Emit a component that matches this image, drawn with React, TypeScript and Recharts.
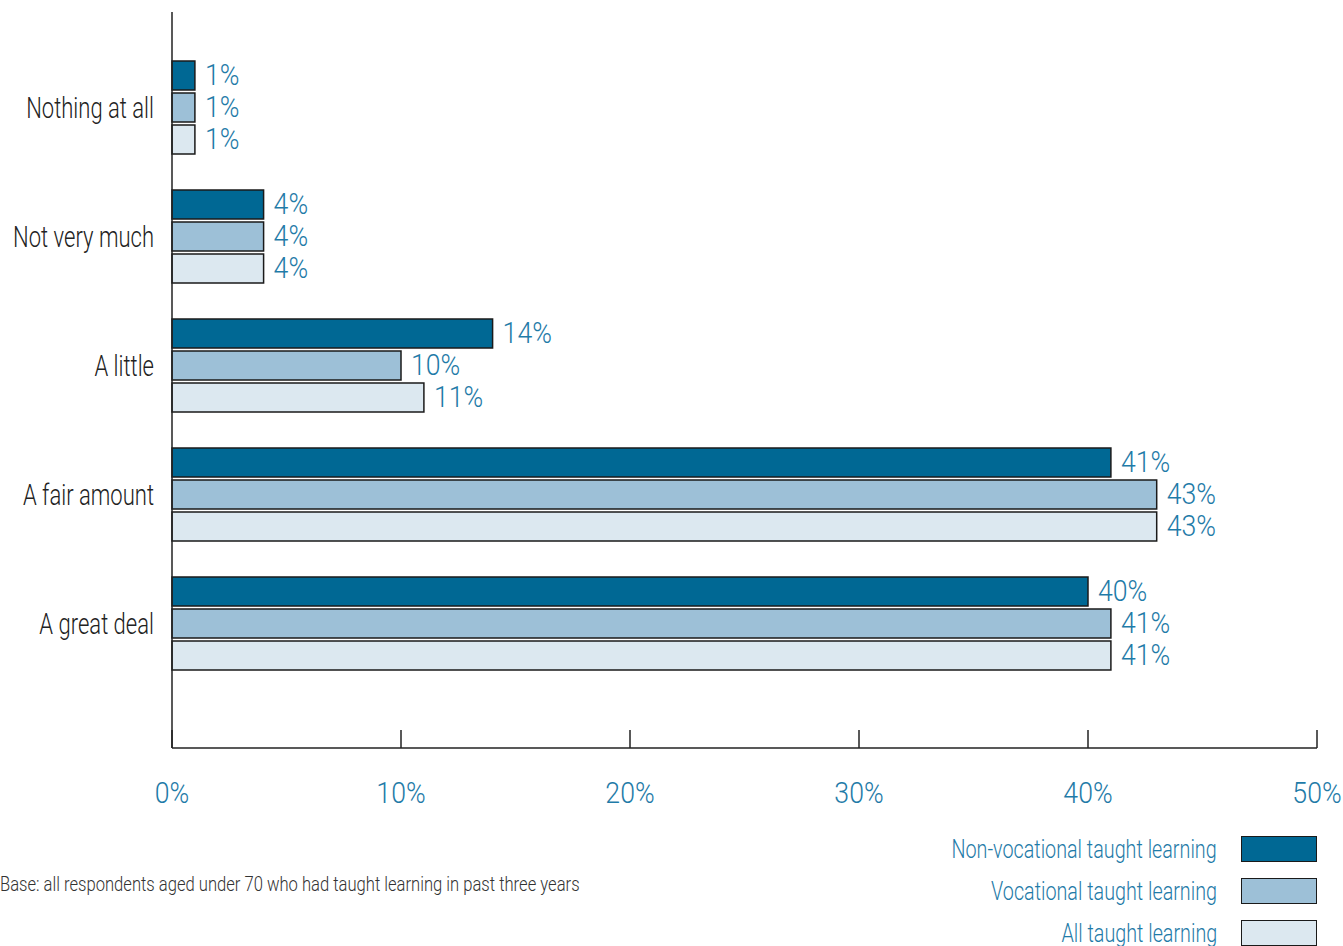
import React from "react";
import {
  BarChart,
  Bar,
  XAxis,
  YAxis,
  LabelList,
} from "recharts";

const categories = [
  "Nothing at all",
  "Not very much",
  "A little",
  "A fair amount",
  "A great deal",
];
const nonVocational = [1, 4, 14, 41, 40];
const vocational = [1, 4, 10, 43, 41];
const allTaught = [1, 4, 11, 43, 41];
const xTicks = [0, 10, 20, 30, 40, 50];

const SERIES = [
  { key: "nonVoc", name: "Non-vocational taught learning", color: "#006894" },
  { key: "voc", name: "Vocational taught learning", color: "#9dc0d7" },
  { key: "all", name: "All taught learning", color: "#dce8f0" },
];

const FONT = "Roboto, 'Noto Sans', sans-serif";
// squeeze text to mimic a condensed face
const SX_WORDS = 0.76;
const SX_NUMS = 0.92;
const BLUE = "#1f7ba8";
const INK = "#222";

const data = categories.map((name, i) => ({
  name,
  nonVoc: nonVocational[i],
  voc: vocational[i],
  all: allTaught[i],
}));

const NarrowText = ({ x, y, anchor, fill, size, sx, children }: any) => (
  <g transform={`translate(${x} ${y}) scale(${sx} 1)`}>
    <text
      x={0}
      y={0}
      textAnchor={anchor}
      dominantBaseline="central"
      fill={fill}
      fontSize={size}
      fontWeight={300}
      fontFamily={FONT}
    >
      {children}
    </text>
  </g>
);

// inward tick + label below the axis
const XTick = (props: any) => {
  const { x, y, payload } = props;
  return (
    <g>
      <line x1={x} x2={x} y1={y - 18} y2={y} stroke={INK} strokeWidth={1.5} />
      <NarrowText x={x} y={y + 45} anchor="middle" fill={BLUE} size={29} sx={SX_NUMS}>
        {payload.value}%
      </NarrowText>
    </g>
  );
};

const YTick = (props: any) => {
  const { x, y, payload } = props;
  return (
    <NarrowText x={x} y={y} anchor="end" fill={INK} size={29} sx={SX_WORDS}>
      {payload.value}
    </NarrowText>
  );
};

const ValueLabel = (props: any) => {
  const { x, y, width, height, value } = props;
  return (
    <NarrowText
      x={x + width + 10}
      y={y + height / 2}
      anchor="start"
      fill={BLUE}
      size={29}
      sx={SX_NUMS}
    >
      {value}%
    </NarrowText>
  );
};

export default function App() {
  return (
    <div
      style={{
        position: "absolute",
        left: 0,
        top: 0,
        width: 1343,
        height: 946,
        background: "#fff",
        fontFamily: FONT,
        fontWeight: 300,
        overflow: "hidden",
      }}
    >
      <BarChart
        width={1343}
        height={946}
        data={data}
        layout="vertical"
        margin={{ top: 12, right: 26, bottom: 138, left: 0 }}
        barSize={29}
        barGap={3}
      >
        <XAxis
          type="number"
          domain={[0, 50]}
          ticks={xTicks}
          height={60}
          tickSize={0}
          tickMargin={0}
          tickLine={false}
          axisLine={{ stroke: INK, strokeWidth: 1.5 }}
          tick={<XTick />}
          interval={0}
        />
        <YAxis
          type="category"
          dataKey="name"
          width={172}
          padding={{ top: 31, bottom: 60 }}
          tickLine={false}
          tickSize={0}
          tickMargin={18}
          axisLine={{ stroke: INK, strokeWidth: 1.5 }}
          tick={<YTick />}
        />
        {SERIES.map((s) => (
          <Bar
            key={s.key}
            dataKey={s.key}
            name={s.name}
            fill={s.color}
            stroke="#1a1a1a"
            strokeWidth={1.5}
            isAnimationActive={false}
          >
            <LabelList dataKey={s.key} content={<ValueLabel />} />
          </Bar>
        ))}
      </BarChart>

      {SERIES.map((s, i) => (
        <div key={s.key}>
          <div
            style={{
              position: "absolute",
              right: 1343 - 1217,
              top: 836 + i * 42,
              height: 28,
              lineHeight: "28px",
              fontSize: 25,
              color: BLUE,
              whiteSpace: "nowrap",
              transform: "scaleX(0.79)",
              transformOrigin: "right center",
            }}
          >
            {s.name}
          </div>
          <div
            style={{
              position: "absolute",
              left: 1241,
              top: 836 + i * 42,
              width: 74,
              height: 24,
              background: s.color,
              border: "1.5px solid #1a1a1a",
            }}
          />
        </div>
      ))}

      <div
        style={{
          position: "absolute",
          left: 0,
          top: 872,
          fontSize: 20,
          lineHeight: "24px",
          color: "#333",
          whiteSpace: "nowrap",
          transform: "scaleX(0.83)",
          transformOrigin: "left center",
        }}
      >
        Base: all respondents aged under 70 who had taught learning in past three years
      </div>
    </div>
  );
}
